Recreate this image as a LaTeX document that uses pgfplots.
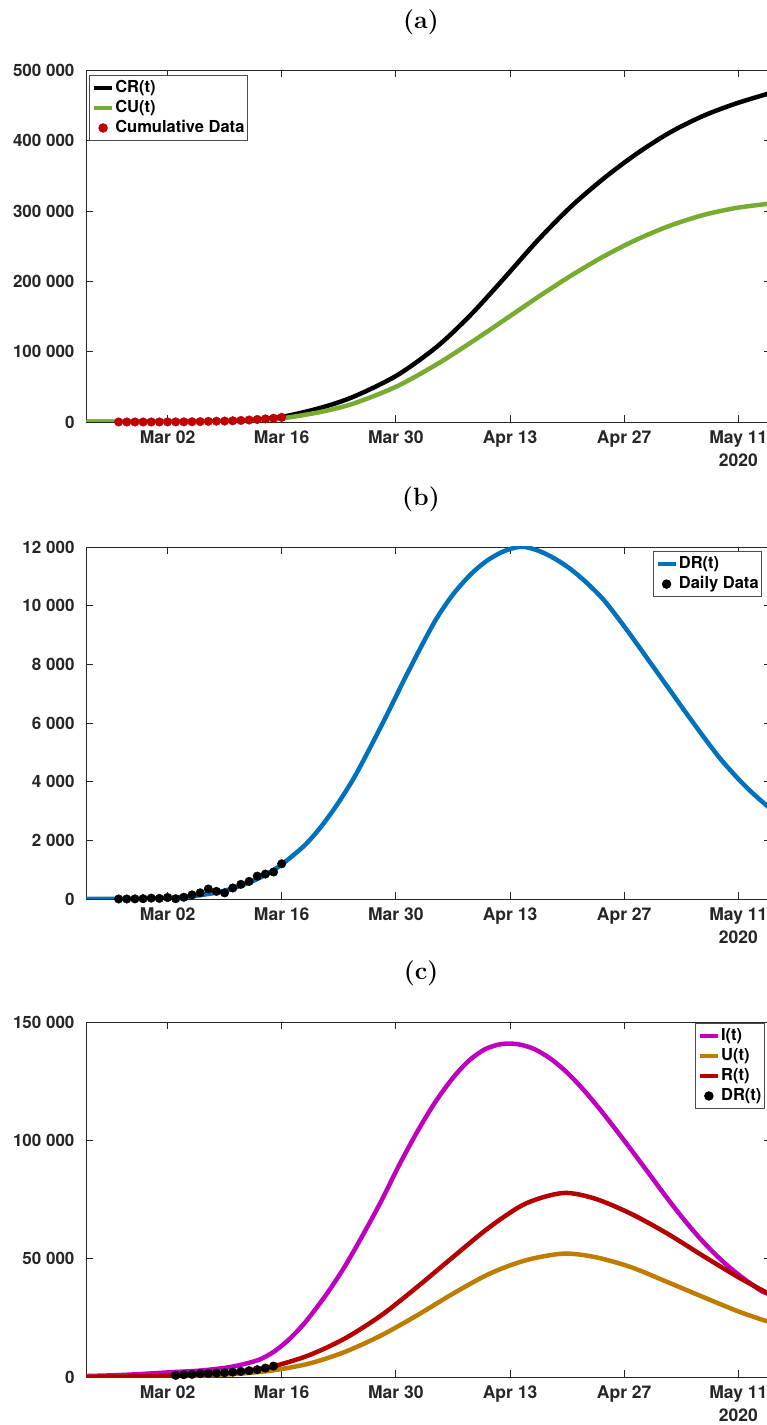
\documentclass[border=0pt]{standalone}
\usepackage{fontspec}
\setsansfont{TeX Gyre Heros}
\usepackage{pgfplots}
\pgfplotsset{compat=1.18}
\definecolor{cgreen}{RGB}{119,172,48}
\definecolor{cdred}{RGB}{192,0,0}
\definecolor{cblue}{RGB}{0,114,189}
\definecolor{cmag}{RGB}{191,0,191}
\definecolor{corange}{RGB}{191,125,0}
\definecolor{cred}{RGB}{180,0,0}
\definecolor{axgray}{RGB}{38,38,38}
\pgfplotsset{
  mystyle/.style={
    scale only axis,
    width=685pt,
    xmin=-10, xmax=74,
    scaled y ticks=false,
    xtick={0,14,28,42,56,70},
    xticklabels={Mar 02,Mar 16,Mar 30,Apr 13,Apr 27,{May 11\\2020}},
    xticklabel style={align=center, yshift=-5pt, font=\fontsize{17.5}{23}\selectfont\sffamily\bfseries, text=axgray},
    yticklabel style={xshift=-8pt, font=\fontsize{17}{21}\selectfont\sffamily\bfseries, text=axgray},
    axis line style={axgray, line width=0.8pt},
    tick style={axgray, line width=0.8pt},
    major tick length=7pt,
    tick align=inside,
    legend style={font=\fontsize{16.5}{20}\selectfont\sffamily\bfseries, draw=black!70, line width=0.8pt,
      inner xsep=2pt, inner ysep=2.5pt, row sep=0pt,
      nodes={inner xsep=1pt, inner ysep=0.5pt, text height=14pt, text depth=5pt, anchor=west},
      cells={anchor=west}},
    legend cell align=left,
    /pgf/number format/assume math mode=true,
  },
  lineleg/.style={legend image code/.code={\draw[##1, line width=4.5pt] (0pt,0pt) -- (18pt,0pt);}},
  markleg/.style={legend image code/.code={\draw[##1] plot coordinates {(9pt,0pt)};}},
  curve/.style={line width=4.5pt, smooth, lineleg},
}
\begin{document}
\begin{tikzpicture}
% ---------------- (a)
\begin{axis}[mystyle, at={(86pt,1003pt)}, anchor=south west, height=351.5pt,
  ymin=0, ymax=500000,
  ytick={0,100000,200000,300000,400000,500000},
  yticklabels={0,100 000,200 000,300 000,400 000,500 000},
  legend style={at={(0.005,0.987)}, anchor=north west}]
\addplot[black, curve] table {
-10 0
-6 15
-2 80
2 330
6 1000
10 2700
14 7200
18.7 19900
22.8 35900
28.1 66100
33.0 106800
37.1 151500
41.2 203500
45.3 257200
49.4 305600
53.5 346600
57.5 381400
61.6 411800
65.7 435500
69.8 453400
74 468200
};
\addlegendentry{CR(t)}
\addplot[cgreen, curve] table {
-10 0
-6 10
-2 55
2 240
6 720
10 1950
14 5200
18.7 14130
22.8 26220
28.1 50600
33.0 81960
37.1 112300
41.2 144300
45.3 176700
49.4 207600
53.5 235700
57.5 259300
61.6 279200
65.7 294400
69.8 304600
74 310800
};
\addlegendentry{CU(t)}
\addplot[only marks, mark=*, mark size=4.3pt, cdred, markleg] table {
-6 12
-5 12
-4 12
-3 12
-2 42
-1 62
0 112
1 122
2 182
3 322
4 532
5 872
6 1132
7 1342
8 1717
9 2217
10 2817
11 3597
12 4447
13 5367
14 6567
};
\addlegendentry{Cumulative Data}
\end{axis}
% ---------------- (b)
\begin{axis}[mystyle, at={(86pt,526pt)}, anchor=south west, height=352pt,
  ymin=0, ymax=12000,
  ytick={0,2000,4000,6000,8000,10000,12000},
  yticklabels={0,2 000,4 000,6 000,8 000,10 000,12 000},
  legend style={at={(0.987,0.988)}, anchor=north east}]
\addplot[cblue, curve] table {
-10 0
-6 3
-2 15
2 70
4 130
6 220
8 360
10 560
12 820
14 1180
16.7 1800
18.7 2420
20.7 3180
22.8 4100
24.8 5137
26.9 6280
28.9 7408
31.0 8550
33.0 9569
35.0 10380
37.1 11045
39.1 11520
41.2 11850
43.4 12010
45.5 11870
47.5 11600
49.4 11250
51.4 10780
53.5 10190
55.5 9480
57.5 8720
59.6 7900
61.6 7120
63.7 6300
65.7 5540
67.7 4810
69.8 4150
71.7 3620
74 3060
};
\addlegendentry{DR(t)}
\addplot[only marks, mark=*, mark size=4.3pt, black, markleg] table {
-6 0
-5 0
-4 5
-3 10
-2 30
-1 20
0 50
1 10
2 60
3 140
4 210
5 340
6 260
7 210
8 375
9 500
10 600
11 780
12 850
13 920
14 1200
};
\addlegendentry{Daily Data}
\end{axis}
% ---------------- (c)
\begin{axis}[mystyle, at={(86pt,48pt)}, anchor=south west, height=355pt,
  ymin=0, ymax=150000,
  ytick={0,50000,100000,150000},
  yticklabels={0,50 000,100 000,150 000},
  legend style={at={(0.991,0.997)}, anchor=north east}]
\addplot[cmag, curve] table {
-10 400
-6 800
-2 1500
0.3 2000
4 2700
7.3 4000
9.3 5400
11.3 7400
13 10600
14.6 14950
16 19700
17.3 24900
19.5 35000
21.7 46500
24 60300
26.2 74300
28.4 89500
30.6 103500
32.8 116000
35 126400
37 133800
39 138600
41 140700
43 140600
45 138500
47 134400
49 128600
51 121400
53 113200
55 104400
57 95350
59 86100
61 76800
63 67900
65 59700
67 52400
69 46100
71 40700
73 36000
74 35000
};
\addlegendentry{I(t)}
\addplot[corange, curve] table {
-10 50
-6 110
-2 230
2 450
6 880
9 1450
12.9 2790
17.3 5620
21.7 10530
26.2 17580
30.6 26040
35.0 35210
39.5 43660
43.9 49290
48.5 52110
52.4 50680
56.8 46450
61.3 40110
65.7 33770
70.2 27430
74 23000
};
\addlegendentry{U(t)}
\addplot[cred, curve] table {
-10 80
-6 170
-2 350
2 700
6 1400
9 2300
12.9 4480
17.3 9130
21.7 16190
26.2 26040
30.6 38000
35.0 50680
39.5 63360
43.9 73250
48.5 77740
52.4 75370
56.8 69030
61.3 60570
65.7 51100
70.2 41750
74 34700
};
\addlegendentry{R(t)}
\addplot[only marks, mark=*, mark size=4.3pt, black, markleg] table {
1 680
2 970
3 1100
4 1390
5 1520
6 1650
7 1820
8 2070
9 2370
10 2660
11 3090
12 3760
13 4610
};
\addlegendentry{DR(t)}
\end{axis}
\node[font=\fontsize{25}{28}\selectfont\rmfamily\bfseries] at (421pt,1403pt) {(a)};
\node[font=\fontsize{25}{28}\selectfont\rmfamily\bfseries] at (421pt,926pt) {(b)};
\node[font=\fontsize{25}{28}\selectfont\rmfamily\bfseries] at (421pt,452pt) {(c)};
\pgfresetboundingbox
\path[use as bounding box] (0pt,0pt) rectangle (767pt,1425pt);
\end{tikzpicture}
\end{document}
